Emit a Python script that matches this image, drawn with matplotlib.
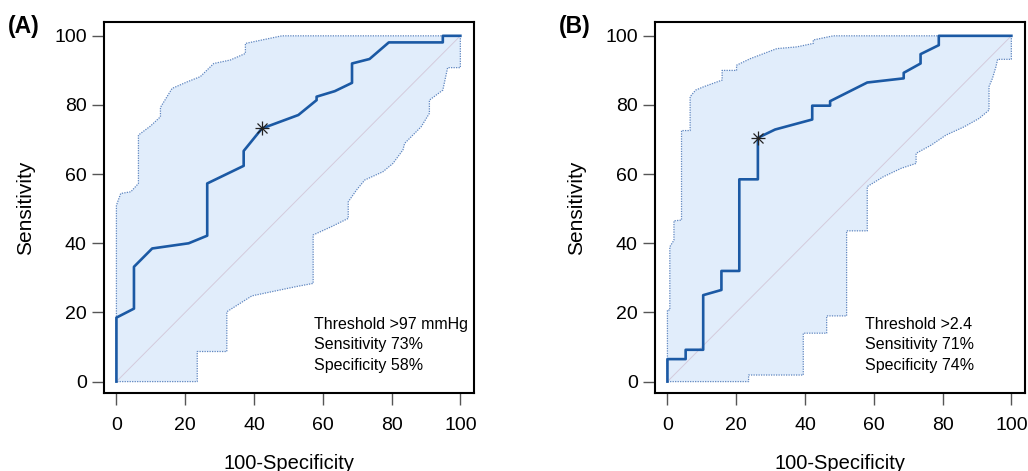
import matplotlib
matplotlib.use("Agg")
from matplotlib import pyplot as plt

plt.rcParams['font.family'] = ['Liberation Sans', 'DejaVu Sans']

# ---- panel A: ROC curve (x = 100-specificity, y = sensitivity)
a_x = [0, 0, 5.1, 5.1, 10.4, 21.0, 26.4, 26.4, 37.0, 37.0, 42.3, 52.9, 58.2, 58.2,
       63.5, 68.5, 68.5, 73.6, 79.2, 94.9, 94.9, 100]
a_y = [0, 18.5, 21.1, 33.2, 38.5, 40.0, 42.2, 57.3, 62.4, 66.7, 73.2, 77.1, 81.4, 82.4,
       84.0, 86.4, 92.0, 93.3, 98.1, 98.1, 100, 100]
# confidence band, upper edge then lower edge
a_up_x = [0, 0, 1.25, 4.2, 6.4, 6.4, 9.9, 12.8, 12.8, 16.2, 20.6, 24.4, 28.3, 33.1,
          37.5, 37.5, 48.1, 100]
a_up_y = [0, 51, 54.4, 54.9, 57.3, 71.3, 73.9, 76.6, 79.3, 84.8, 86.7, 88.2, 92.0, 93.0,
          94.9, 97.8, 100, 100]
a_lo_x = [100, 100, 96.3, 94.9, 91.0, 91.0, 88.6, 83.8, 83.3, 80.4, 77.5, 72.2, 69.8,
          67.4, 67.4, 62.5, 57.2, 57.2, 52.4, 39.4, 32.1, 32.1, 23.5, 23.5, 0]
a_lo_y = [100, 90.8, 90.8, 84.3, 81.4, 77.6, 73.7, 68.9, 67.0, 63.1, 60.7, 58.3, 55.4,
          52.0, 47.2, 44.8, 42.4, 28.4, 27.5, 24.8, 20.2, 8.7, 8.7, 0, 0]
a_cut = (42.3, 73.2)
a_text = ["Threshold >97 mmHg", "Sensitivity 73%", "Specificity 58%"]

# ---- panel B
b_x = [0, 0, 5.3, 5.3, 10.4, 10.4, 15.7, 15.7, 20.9, 20.9, 26.3, 26.3, 31.3, 42.1, 42.1,
       47.3, 47.3, 58.1, 68.7, 68.7, 73.6, 73.6, 78.9, 78.9, 100]
b_y = [0, 6.5, 6.5, 9.2, 9.2, 25.0, 26.5, 32.0, 32.0, 58.5, 58.5, 70.5, 72.9, 75.8, 79.8,
       79.8, 81.1, 86.5, 87.7, 89.3, 92.0, 94.7, 97.3, 100, 100]
b_up_x = [0, 0, 0.7, 0.7, 1.9, 1.9, 4.1, 4.1, 6.6, 6.6, 8.2, 10.6, 15.9, 15.9, 20.1, 20.1,
          24.1, 31.8, 37.6, 42.4, 42.4, 48.2, 100]
b_up_y = [0, 20.7, 20.7, 39.0, 40.9, 46.5, 46.7, 72.6, 72.6, 82.4, 84.3, 85.3, 87.2, 90.0,
          90.0, 91.5, 93.4, 96.3, 96.8, 97.8, 98.8, 100, 100]
b_lo_x = [100, 100, 96.0, 95.5, 94.5, 93.5, 93.5, 90.6, 86.3, 81.0, 76.7, 72.3, 72.3, 68.0,
          62.7, 58.1, 58.1, 52.1, 52.1, 46.3, 46.3, 39.5, 39.5, 23.6, 23.6, 0]
b_lo_y = [100, 93.2, 93.2, 91.0, 87.7, 85.3, 78.5, 76.1, 73.7, 71.3, 68.4, 66.0, 63.1, 61.7,
          59.2, 56.4, 43.6, 43.6, 19.0, 19.0, 14.0, 14.0, 1.9, 1.9, 0, 0]
b_cut = (26.3, 70.5)
b_text = ["Threshold >2.4", "Sensitivity 71%", "Specificity 74%"]

ticks = [0, 20, 40, 60, 80, 100]

fig = plt.figure(figsize=(10.28, 4.71), dpi=100)


def roc_panel(rect, label, x, y, up_x, up_y, lo_x, lo_y, cut, lines):
    ax = fig.add_axes(rect)
    # band
    ax.fill(up_x + lo_x, up_y + lo_y, color='#e1edfb', lw=0)
    ax.plot(up_x + lo_x, up_y + lo_y, color='#5f86c0', lw=0.9, ls=(0, (1, 1)))
    # chance line
    ax.plot([0, 100], [0, 100], color='#d4cbdc', lw=0.7)
    ax.plot(x, y, color='#1b59a4', lw=1.9)
    ax.plot(*cut, marker='+', color='#222222', ms=10, mew=0.9)
    ax.plot(*cut, marker='x', color='#222222', ms=7, mew=0.9)
    ax.text(57.5, 10.6, "\n".join(lines), fontsize=11.5, va='center', ha='left',
            linespacing=1.45)
    ax.set_xlim(-3.6, 104)
    ax.set_ylim(-3.3, 104)
    ax.set_xticks(ticks)
    ax.set_yticks(ticks)
    ax.tick_params(labelsize=14, length=8.5, width=1, color='#555555')
    ax.tick_params(axis='x', pad=9)
    ax.tick_params(axis='y', pad=4)
    for s in ax.spines.values():
        s.set_linewidth(1.5)
    ax.set_xlabel("100-Specificity", fontsize=14.5, labelpad=14)
    ax.set_ylabel("Sensitivity", fontsize=15, labelpad=14)
    fig.text(rect[0] - 0.094, 0.943, label, fontsize=16.5, fontweight='bold',
             va='center', ha='left')
    return ax


roc_panel([0.1012, 0.1656, 0.3600, 0.7877], "(A)", a_x, a_y, a_up_x, a_up_y,
          a_lo_x, a_lo_y, a_cut, a_text)
roc_panel([0.6372, 0.1656, 0.3600, 0.7877], "(B)", b_x, b_y, b_up_x, b_up_y,
          b_lo_x, b_lo_y, b_cut, b_text)

fig.savefig("out.png", dpi=100)
